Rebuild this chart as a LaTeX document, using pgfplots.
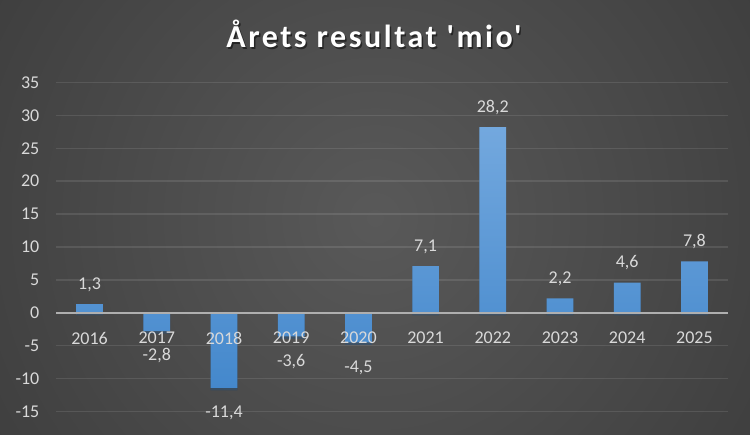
\documentclass[border=0pt]{standalone}
\usepackage{pgfplots}
\pgfplotsset{compat=1.18}
\usetikzlibrary{shadows}
\usepackage{fontspec}
\setmainfont{Carlito}
\newfontfamily\titlefont[LetterSpace=8]{Carlito}

\definecolor{bgin}{RGB}{89,89,89}
\definecolor{bgout}{RGB}{37,37,37}
\definecolor{labelgray}{RGB}{217,217,217}
\definecolor{zeroline}{RGB}{175,175,175}
\definecolor{bartop}{RGB}{115,168,222}
\definecolor{barbottom}{RGB}{68,136,204}

\pgfplotsset{
  chartframe/.style={
    at={(56pt,23.5pt)}, anchor=south west,
    scale only axis, width=672pt, height=329pt,
    xmin=-0.5, xmax=9.5, ymin=-15, ymax=35,
    enlargelimits=false,
    major tick length=0pt,
    /pgf/number format/assume math mode=true,
    tick label style={font=\fontsize{18}{20}\selectfont, text=labelgray},
  },
}

\begin{document}
\begin{tikzpicture}
\useasboundingbox (0,0) rectangle (750pt,435pt);
\begin{scope}
  \clip (0,0) rectangle (750pt,435pt);
  \shade[inner color=bgin, outer color=bgout] (375pt,217pt) circle (880pt);
\end{scope}

% title with a soft shadow
\node[anchor=base, text=black, opacity=0.5, font=\titlefont\bfseries\fontsize{32}{38}\selectfont]
  at (375.5pt,385.5pt) {Årets resultat 'mio'};
\node[anchor=base, text=white, font=\titlefont\bfseries\fontsize{32}{38}\selectfont]
  at (374pt,387pt) {Årets resultat 'mio'};

% grid, y labels and bars
\begin{axis}[
  chartframe,
  axis line style={draw=none},
  xtick=\empty,
  ytick={-15,-10,...,35},
  ymajorgrids,
  grid style={white, opacity=0.1, line width=1.4pt},
  yticklabel style={anchor=east, inner xsep=0pt, xshift=-16.5pt},
  ybar, bar width=26.7pt,
  nodes near coords={\pgfmathprintnumber[fixed,fixed zerofill,precision=1,use comma]{\pgfplotspointmeta}},
  every node near coord/.append style={font=\fontsize{18}{20}\selectfont, text=labelgray,
    inner xsep=0pt, inner ysep=14.5pt, text height=15pt, text depth=0pt},
]
\addplot[draw=none, top color=bartop, bottom color=barbottom,
  drop shadow={shadow xshift=0pt, shadow yshift=-2.5pt, opacity=0.3, fill=black}]
  coordinates {
  (0,1.3) (1,-2.8) (2,-11.4) (3,-3.6) (4,-4.5)
  (5,7.1) (6,28.2) (7,2.2) (8,4.6) (9,7.8)
};
\end{axis}

% zero line and category labels on top of the bars
\begin{axis}[
  chartframe,
  axis x line=middle, axis y line=none,
  hide obscured x ticks=false,
  x axis line style={-, draw=zeroline, line width=1.8pt},
  ytick=\empty,
  xtick={0,...,9},
  xticklabels={2016,2017,2018,2019,2020,2021,2022,2023,2024,2025},
  xticklabel style={anchor=north, inner sep=0pt, yshift=-19pt},
]
\end{axis}
\end{tikzpicture}
\end{document}
